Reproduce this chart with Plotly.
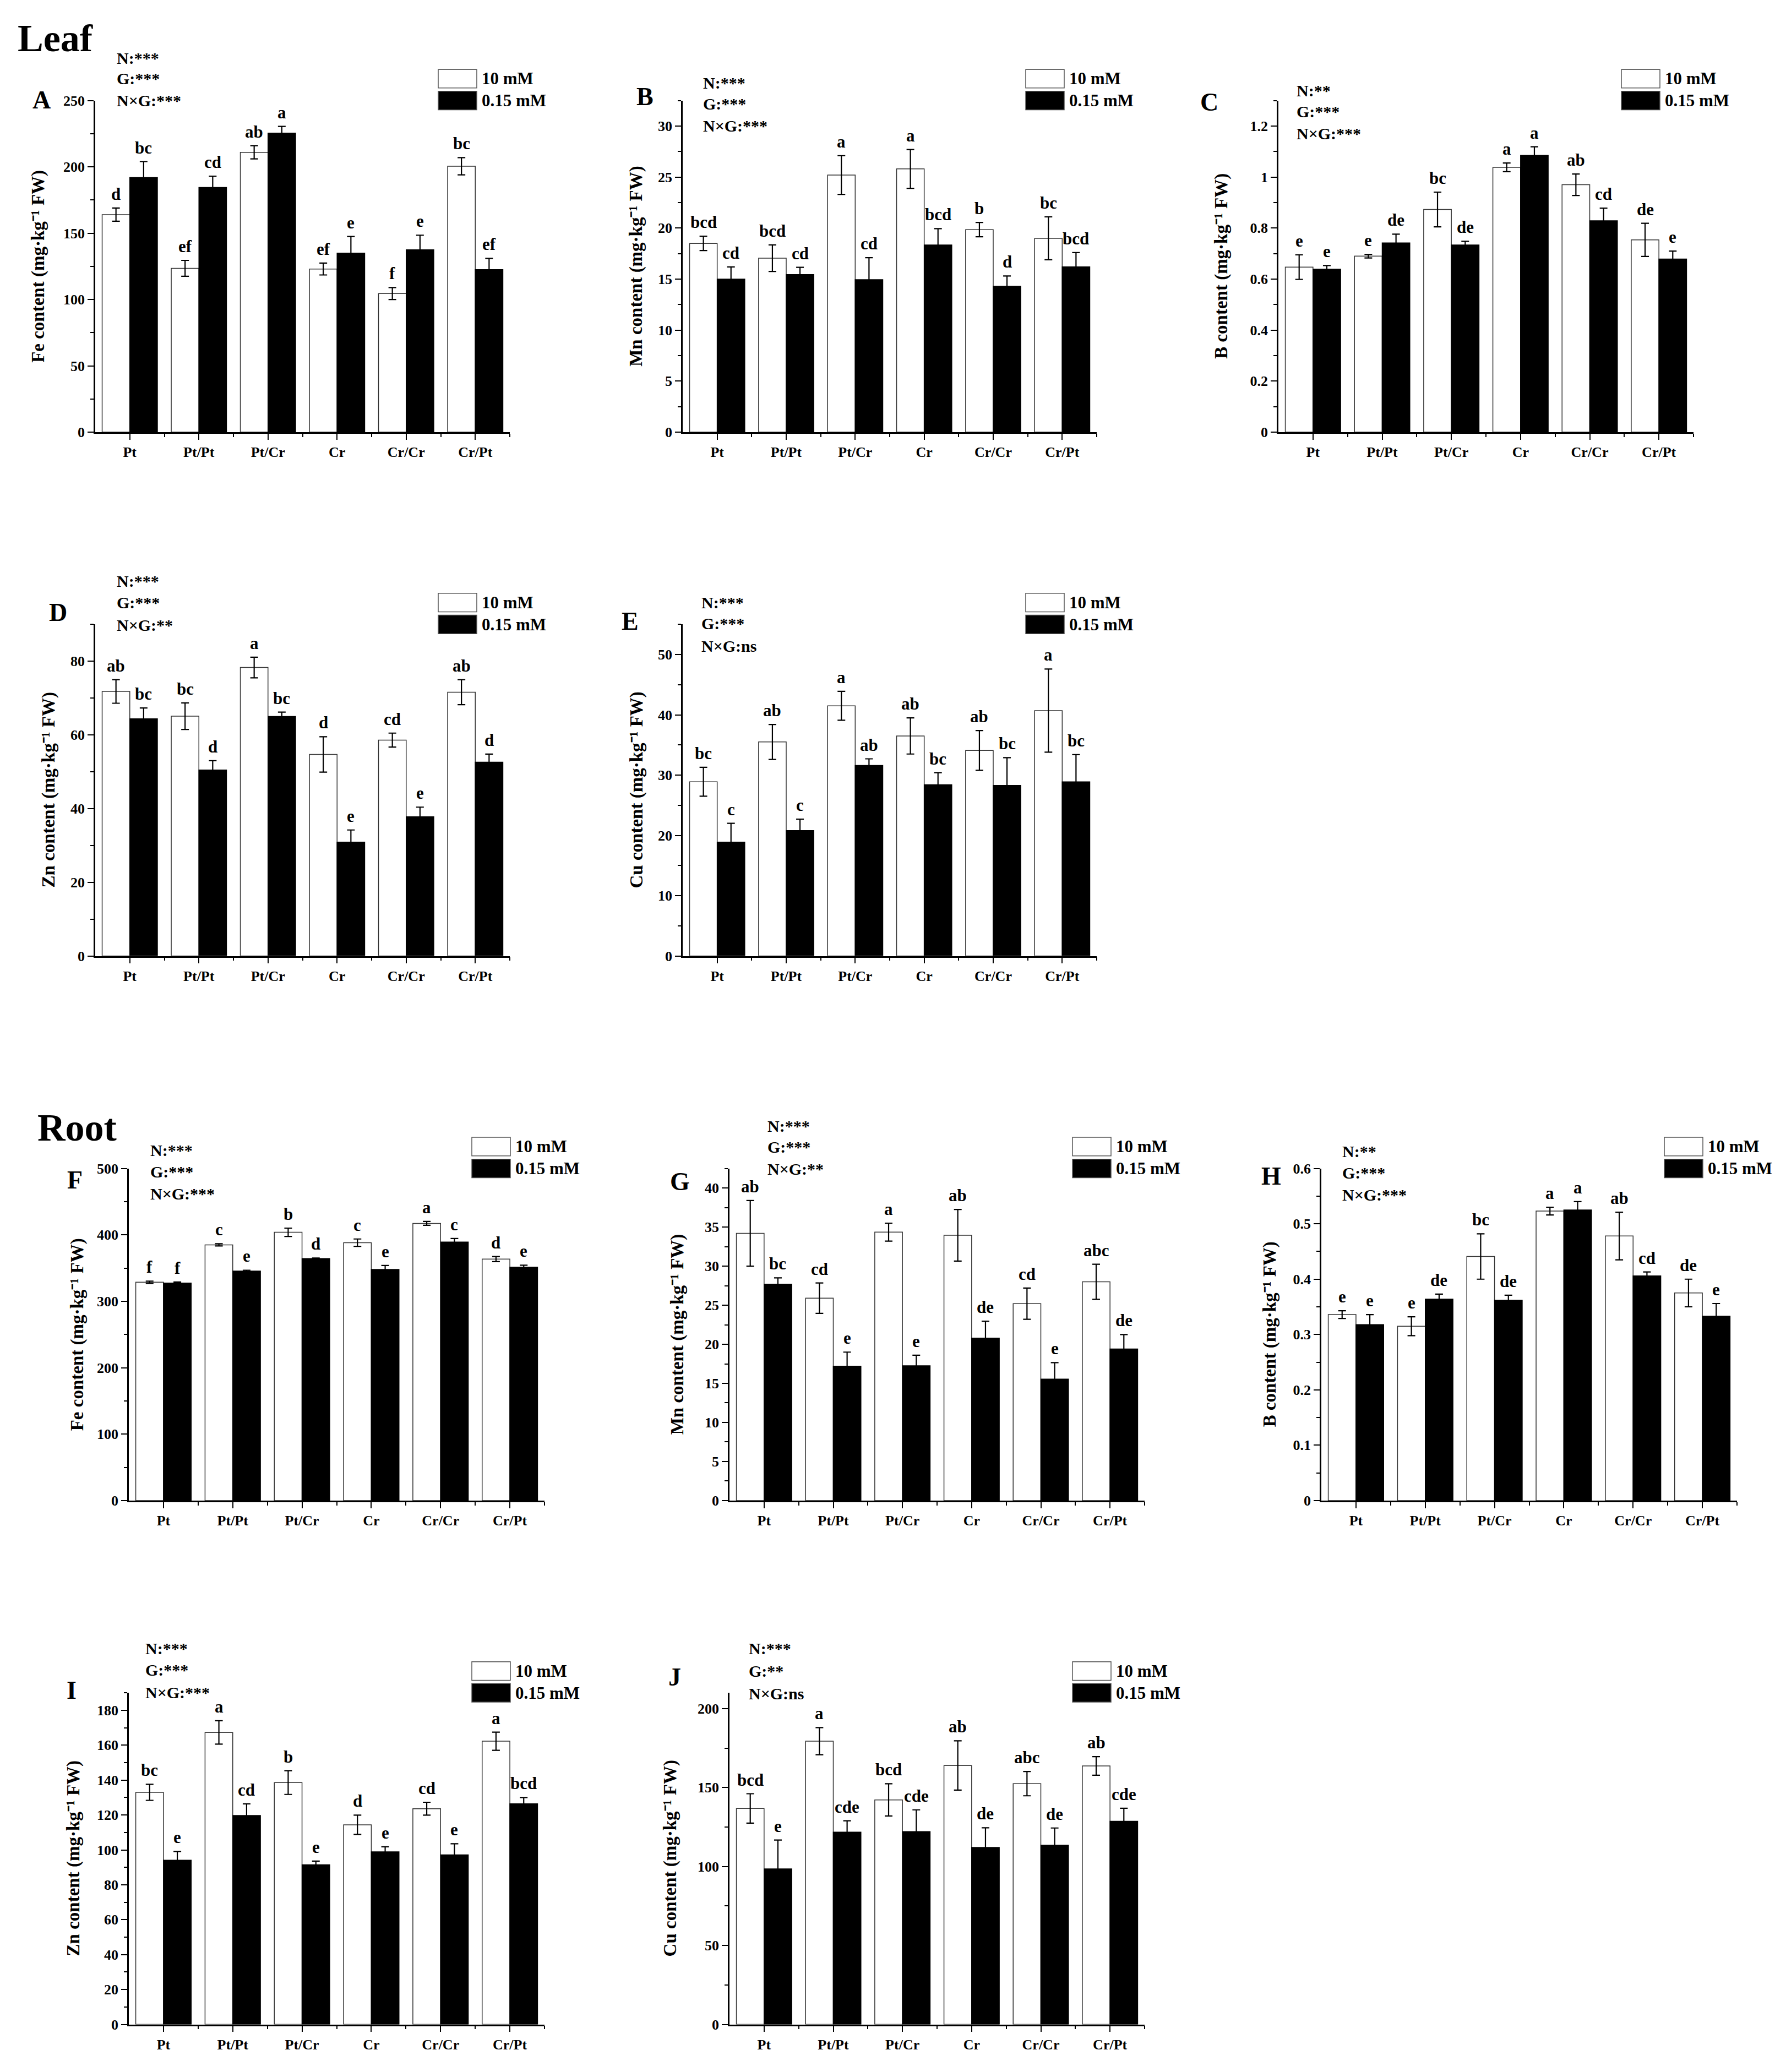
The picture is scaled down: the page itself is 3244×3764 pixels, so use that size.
import plotly.graph_objects as go

W, H = 3244, 3764
FONT = "Liberation Serif"

GROUPS = ["Pt", "Pt/Pt", "Pt/Cr", "Cr", "Cr/Cr", "Cr/Pt"]
SERIES = ["10 mM", "0.15 mM"]

# --- Leaf ---
fe_leaf_10 = [164, 123.5, 211, 123, 104.5, 200.5]
fe_leaf_10_se = [5, 6, 5, 4.5, 4.5, 6.5]
fe_leaf_015 = [192, 184.5, 225.5, 135, 137.5, 122.5]
fe_leaf_015_se = [12, 8.5, 5, 12.5, 11, 8.5]
fe_leaf_10_let = ["d", "ef", "ab", "ef", "f", "bc"]
fe_leaf_015_let = ["bc", "cd", "a", "e", "e", "ef"]

mn_leaf_10 = [18.5, 17.05, 25.2, 25.8, 19.85, 19.0]
mn_leaf_10_se = [0.7, 1.3, 1.9, 1.9, 0.7, 2.1]
mn_leaf_015 = [15.0, 15.45, 14.95, 18.35, 14.3, 16.2]
mn_leaf_015_se = [1.2, 0.7, 2.15, 1.6, 1.0, 1.4]
mn_leaf_10_let = ["bcd", "bcd", "a", "a", "b", "bc"]
mn_leaf_015_let = ["cd", "cd", "cd", "bcd", "d", "bcd"]

b_leaf_10 = [0.647, 0.690, 0.873, 1.038, 0.970, 0.754]
b_leaf_10_se = [0.048, 0.007, 0.068, 0.017, 0.042, 0.065]
b_leaf_015 = [0.639, 0.742, 0.734, 1.085, 0.829, 0.679]
b_leaf_015_se = [0.014, 0.034, 0.014, 0.034, 0.049, 0.031]
b_leaf_10_let = ["e", "e", "bc", "a", "ab", "de"]
b_leaf_015_let = ["e", "de", "de", "a", "cd", "e"]

zn_leaf_10 = [71.8, 65.1, 78.3, 54.7, 58.6, 71.6]
zn_leaf_10_se = [3.2, 3.6, 2.8, 4.8, 1.9, 3.4]
zn_leaf_015 = [64.4, 50.5, 65.0, 30.9, 37.8, 52.6]
zn_leaf_015_se = [2.9, 2.5, 1.2, 3.3, 2.6, 2.2]
zn_leaf_10_let = ["ab", "bc", "a", "d", "cd", "ab"]
zn_leaf_015_let = ["bc", "d", "bc", "e", "e", "d"]

cu_leaf_10 = [28.9, 35.5, 41.5, 36.5, 34.1, 40.7]
cu_leaf_10_se = [2.4, 2.9, 2.4, 3.0, 3.3, 6.9]
cu_leaf_015 = [18.9, 20.8, 31.6, 28.4, 28.3, 28.9]
cu_leaf_015_se = [3.1, 1.9, 1.1, 2.0, 4.6, 4.5]
cu_leaf_10_let = ["bc", "ab", "a", "ab", "ab", "a"]
cu_leaf_015_let = ["c", "c", "ab", "bc", "bc", "bc"]

# --- Root ---
fe_root_10 = [328.7, 385.0, 403.9, 388.3, 417.3, 363.6]
fe_root_10_se = [1.7, 1.7, 6.3, 5.5, 2.9, 3.8]
fe_root_015 = [327.5, 345.5, 364.4, 348.0, 389.2, 351.4]
fe_root_015_se = [1.5, 1.3, 0.8, 5.9, 5.4, 2.9]
fe_root_10_let = ["f", "c", "b", "c", "a", "d"]
fe_root_015_let = ["f", "e", "d", "e", "c", "e"]

mn_root_10 = [34.2, 25.9, 34.35, 33.95, 25.2, 28.0]
mn_root_10_se = [4.2, 1.95, 1.15, 3.3, 2.0, 2.25]
mn_root_015 = [27.7, 17.2, 17.25, 20.8, 15.55, 19.4]
mn_root_015_se = [0.8, 1.8, 1.35, 2.15, 2.1, 1.85]
mn_root_10_let = ["ab", "cd", "a", "ab", "cd", "abc"]
mn_root_015_let = ["bc", "e", "e", "de", "e", "de"]

b_root_10 = [0.336, 0.315, 0.441, 0.523, 0.478, 0.375]
b_root_10_se = [0.007, 0.017, 0.041, 0.007, 0.043, 0.025]
b_root_015 = [0.318, 0.364, 0.362, 0.525, 0.406, 0.333]
b_root_015_se = [0.018, 0.009, 0.009, 0.015, 0.007, 0.023]
b_root_10_let = ["e", "e", "bc", "a", "ab", "de"]
b_root_015_let = ["e", "de", "de", "a", "cd", "e"]

zn_root_10 = [133.0, 167.3, 138.6, 114.4, 123.6, 162.3]
zn_root_10_se = [4.6, 6.7, 6.8, 5.5, 3.7, 5.2]
zn_root_015 = [94.1, 119.7, 91.5, 98.9, 97.2, 126.4]
zn_root_015_se = [5.0, 6.7, 2.1, 2.9, 6.3, 3.6]
zn_root_10_let = ["bc", "a", "b", "d", "cd", "a"]
zn_root_015_let = ["e", "cd", "e", "e", "e", "bcd"]

cu_root_10 = [136.8, 179.4, 142.2, 164.0, 152.5, 163.7]
cu_root_10_se = [9.3, 8.6, 10.2, 15.6, 7.7, 5.9]
cu_root_015 = [98.5, 121.8, 122.1, 112.1, 113.5, 128.7]
cu_root_015_se = [18.3, 7.2, 13.8, 12.4, 10.9, 8.2]
cu_root_10_let = ["bcd", "a", "bcd", "ab", "abc", "ab"]
cu_root_015_let = ["e", "cde", "cde", "de", "de", "cde"]

# two-way ANOVA labels (N, G, NxG)
stats_a = ["N:***", "G:***", "N×G:***"]
stats_b = ["N:***", "G:***", "N×G:***"]
stats_c = ["N:**", "G:***", "N×G:***"]
stats_d = ["N:***", "G:***", "N×G:**"]
stats_e = ["N:***", "G:***", "N×G:ns"]
stats_f = ["N:***", "G:***", "N×G:***"]
stats_g = ["N:***", "G:***", "N×G:**"]
stats_h = ["N:**", "G:***", "N×G:***"]
stats_i = ["N:***", "G:***", "N×G:***"]
stats_j = ["N:***", "G:**", "N×G:ns"]

# panel table: data + where each panel sits on the page (pixels)
# box = (left, right, top, bottom) of the plot area
PANELS = [
    dict(tag="A", el="Fe", hi=fe_leaf_10, hi_se=fe_leaf_10_se, lo=fe_leaf_015, lo_se=fe_leaf_015_se,
         hi_let=fe_leaf_10_let, lo_let=fe_leaf_015_let, stats=stats_a,
         yr=250, dt=50, box=(173, 926, 170, 777), tagpos=(75, 169), statpos=(210, 92, 130, 170), ytx=70),
    dict(tag="B", el="Mn", hi=mn_leaf_10, hi_se=mn_leaf_10_se, lo=mn_leaf_015, lo_se=mn_leaf_015_se,
         hi_let=mn_leaf_10_let, lo_let=mn_leaf_015_let, stats=stats_b,
         yr=32.5, dt=5, box=(1240, 1992, 170, 777), tagpos=(1171, 163), statpos=(1275, 138, 176, 216), ytx=1156),
    dict(tag="C", el="B", hi=b_leaf_10, hi_se=b_leaf_10_se, lo=b_leaf_015, lo_se=b_leaf_015_se,
         hi_let=b_leaf_10_let, lo_let=b_leaf_015_let, stats=stats_c,
         yr=1.3, dt=0.2, box=(2322, 3076, 170, 777), tagpos=(2196, 173), statpos=(2353, 152, 190, 230), ytx=2219),
    dict(tag="D", el="Zn", hi=zn_leaf_10, hi_se=zn_leaf_10_se, lo=zn_leaf_015, lo_se=zn_leaf_015_se,
         hi_let=zn_leaf_10_let, lo_let=zn_leaf_015_let, stats=stats_d,
         yr=90, dt=20, box=(173, 926, 1129, 1736), tagpos=(105, 1107), statpos=(210, 1050, 1089, 1130), ytx=88),
    dict(tag="E", el="Cu", hi=cu_leaf_10, hi_se=cu_leaf_10_se, lo=cu_leaf_015, lo_se=cu_leaf_015_se,
         hi_let=cu_leaf_10_let, lo_let=cu_leaf_015_let, stats=stats_e,
         yr=55, dt=10, box=(1240, 1992, 1129, 1736), tagpos=(1144, 1123), statpos=(1272, 1089, 1127, 1168), ytx=1156),
    dict(tag="F", el="Fe", hi=fe_root_10, hi_se=fe_root_10_se, lo=fe_root_015, lo_se=fe_root_015_se,
         hi_let=fe_root_10_let, lo_let=fe_root_015_let, stats=stats_f,
         yr=500, dt=100, box=(234, 989, 2125, 2733), tagpos=(136, 2146), statpos=(271, 2092, 2131, 2171), ytx=140),
    dict(tag="G", el="Mn", hi=mn_root_10, hi_se=mn_root_10_se, lo=mn_root_015, lo_se=mn_root_015_se,
         hi_let=mn_root_10_let, lo_let=mn_root_015_let, stats=stats_g,
         yr=42.5, dt=5, box=(1325, 2079, 2125, 2733), tagpos=(1235, 2149), statpos=(1392, 2047, 2086, 2126), ytx=1230),
    dict(tag="H", el="B", hi=b_root_10, hi_se=b_root_10_se, lo=b_root_015, lo_se=b_root_015_se,
         hi_let=b_root_10_let, lo_let=b_root_015_let, stats=stats_h,
         yr=0.6, dt=0.1, box=(2400, 3155, 2125, 2733), tagpos=(2309, 2139), statpos=(2436, 2094, 2133, 2173), ytx=2306),
    dict(tag="I", el="Zn", hi=zn_root_10, hi_se=zn_root_10_se, lo=zn_root_015, lo_se=zn_root_015_se,
         hi_let=zn_root_10_let, lo_let=zn_root_015_let, stats=stats_i,
         yr=190, dt=20, box=(234, 989, 3085, 3692), tagpos=(130, 3080), statpos=(262, 3004, 3043, 3084), ytx=133),
    dict(tag="J", el="Cu", hi=cu_root_10, hi_se=cu_root_10_se, lo=cu_root_015, lo_se=cu_root_015_se,
         hi_let=cu_root_10_let, lo_let=cu_root_015_let, stats=stats_j,
         yr=210, dt=50, box=(1325, 2079, 3085, 3692), tagpos=(1225, 3056), statpos=(1358, 3004, 3045, 3086), ytx=1217),
]


def px(x):
    return x / W


def py(y):
    return 1 - y / H


def bold(size):
    return dict(family=FONT, size=size, color="black", weight="bold")


fig = go.Figure()
xpos = list(range(len(GROUPS)))
BW = 0.4
annotations = []
shapes = []

for k, p in enumerate(PANELS, start=1):
    xa = "x" if k == 1 else f"x{k}"
    ya = "y" if k == 1 else f"y{k}"
    err = dict(type="data", color="black", thickness=2.2, width=7)

    fig.add_trace(go.Bar(
        x=xpos, y=p["hi"], width=BW, offset=-BW, name=SERIES[0],
        marker=dict(color="white", line=dict(color="#333333", width=1.5)),
        error_y=dict(array=p["hi_se"], **err), xaxis=xa, yaxis=ya, showlegend=False,
    ))
    fig.add_trace(go.Bar(
        x=xpos, y=p["lo"], width=BW, offset=0, name=SERIES[1],
        marker=dict(color="black", line=dict(color="black", width=1.5)),
        error_y=dict(array=p["lo_se"], **err), xaxis=xa, yaxis=ya, showlegend=False,
    ))

    left, right, top, bottom = p["box"]
    axis_common = dict(
        showline=True, linecolor="black", linewidth=2.5, showgrid=False, zeroline=False,
        ticks="outside", ticklen=11, tickwidth=2.2, tickcolor="black", tickfont=bold(26),
    )
    fig.layout[f"xaxis{'' if k == 1 else k}"] = dict(
        domain=[px(left), px(right)], anchor=ya, range=[-0.5, len(GROUPS) - 0.5],
        tickmode="array", tickvals=xpos, ticktext=GROUPS,
        minor=dict(tickmode="array", tickvals=[i + 0.5 for i in range(len(GROUPS))],
                   ticks="outside", ticklen=6, tickwidth=2, tickcolor="black"),
        **axis_common,
    )
    fig.layout[f"yaxis{'' if k == 1 else k}"] = dict(
        domain=[py(bottom), py(top)], anchor=xa, range=[0, p["yr"]],
        tick0=0, dtick=p["dt"],
        minor=dict(dtick=p["dt"] / 2, ticks="outside", ticklen=6, tickwidth=2, tickcolor="black"),
        **axis_common,
    )

    # significance letters above the error bars
    for i in xpos:
        for vals, ses, lets, off in ((p["hi"], p["hi_se"], p["hi_let"], -BW / 2),
                                     (p["lo"], p["lo_se"], p["lo_let"], BW / 2)):
            annotations.append(dict(
                x=i + off, y=vals[i] + ses[i], xref=xa, yref=ya, text=lets[i],
                showarrow=False, yanchor="bottom", yshift=6, font=bold(31),
            ))

    # y-axis title
    annotations.append(dict(
        x=px(p["ytx"]), y=py((top + bottom) / 2), xref="paper", yref="paper",
        text=f"{p['el']} content (mg·kg⁻¹ FW)", textangle=-90,
        showarrow=False, xanchor="center", yanchor="middle", font=bold(33),
    ))

    # panel tag
    annotations.append(dict(
        x=px(p["tagpos"][0]), y=py(p["tagpos"][1]), xref="paper", yref="paper",
        text=p["tag"], showarrow=False, xanchor="center", yanchor="middle", font=bold(46),
    ))

    # ANOVA summary
    sx = p["statpos"][0]
    for txt, sy in zip(p["stats"], p["statpos"][1:]):
        annotations.append(dict(
            x=px(sx), y=py(sy), xref="paper", yref="paper", text=txt,
            showarrow=False, xanchor="left", yanchor="middle", font=bold(30),
        ))

    # legend swatches + labels
    bx0, bx1 = left + 623, left + 693
    for (y0, y1), fill, label in (((top - 57, top - 23), "white", SERIES[0]),
                                  ((top - 17, top + 17), "black", SERIES[1])):
        shapes.append(dict(
            type="rect", xref="paper", yref="paper", x0=px(bx0), x1=px(bx1),
            y0=py(y1), y1=py(y0), fillcolor=fill, line=dict(color="#555555", width=1.5),
        ))
        annotations.append(dict(
            x=px(left + 700), y=py((y0 + y1) / 2), xref="paper", yref="paper", text=label,
            showarrow=False, xanchor="left", yanchor="middle", font=bold(31),
        ))

# section headings
for txt, (hx, hy) in (("Leaf", (30, 56)), ("Root", (66, 2050))):
    annotations.append(dict(
        x=px(hx), y=py(hy), xref="paper", yref="paper", text=txt,
        showarrow=False, xanchor="left", yanchor="middle", font=bold(70),
    ))

fig.update_layout(
    width=W, height=H,
    margin=dict(l=0, r=0, t=0, b=0),
    paper_bgcolor="white", plot_bgcolor="white",
    barmode="overlay", showlegend=False,
    annotations=annotations, shapes=shapes,
    font=dict(family=FONT, color="black"),
)

fig.write_html(
    "out.html", config={"displayModeBar": False},
    post_script=("document.documentElement.style.margin='0';"
                 "document.body.style.margin='0';"
                 "document.documentElement.style.overflow='hidden';"),
)
